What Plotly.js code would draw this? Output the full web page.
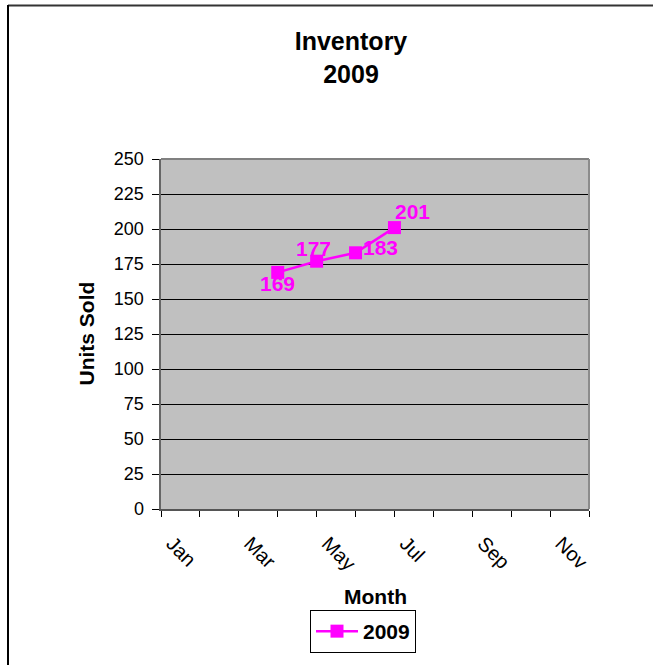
<!DOCTYPE html>
<html>
<head>
<meta charset="utf-8">
<script src="https://cdn.plot.ly/plotly-3.0.1.min.js"></script>
<style>
  html, body { margin: 0; padding: 0; background: #ffffff; }
  #chart { width: 653px; height: 665px; }
</style>
</head>
<body>
<div id="chart"></div>
<script>
// ---- data ----
const months = ['Jan','Feb','Mar','Apr','May','Jun','Jul','Aug','Sep','Oct','Nov','Dec'];
const monthTickText = ['Jan','','Mar','','May','','Jul','','Sep','','Nov',''];
const seriesName = '2009';
const seriesMonths = ['Apr','May','Jun','Jul'];
const unitsSold = [169, 177, 183, 201];
const yTickVals = [0, 25, 50, 75, 100, 125, 150, 175, 200, 225, 250];

// label offsets (px) for data labels, style only
const labelShift = [[0, -11], [-3, 13], [25, 5], [18, 16]];

const magenta = '#FF00FF';
const font = 'Arial, "Liberation Sans", sans-serif';

const trace = {
  type: 'scatter',
  mode: 'lines+markers',
  name: seriesName,
  x: seriesMonths,
  y: unitsSold,
  line: { color: magenta, width: 2.5 },
  marker: { color: magenta, symbol: 'square', size: 13, line: { width: 0 } },
  cliponaxis: false,
  hoverinfo: 'x+y'
};

const annotations = seriesMonths.map((m, i) => ({
  x: m, y: unitsSold[i], xref: 'x', yref: 'y',
  text: '<b>' + unitsSold[i] + '</b>',
  showarrow: false,
  xanchor: 'center', yanchor: 'middle',
  xshift: labelShift[i][0], yshift: labelShift[i][1],
  font: { family: font, size: 21, color: magenta }
}));

// axis titles
annotations.push({
  xref: 'paper', yref: 'paper', x: (86 - 161) / 428, y: (509 - 333.5) / 350,
  xanchor: 'center', yanchor: 'middle',
  text: '<b>Units Sold</b>', textangle: -90, showarrow: false,
  font: { family: font, size: 21, color: '#000' }
});
annotations.push({
  xref: 'paper', yref: 'paper', x: (375 - 161) / 428, y: (509 - 596.5) / 350,
  xanchor: 'center', yanchor: 'middle',
  text: '<b>Month</b>', showarrow: false,
  font: { family: font, size: 21, color: '#000' }
});

const layout = {
  width: 653, height: 665,
  margin: { l: 161, r: 64, t: 159, b: 156 },
  paper_bgcolor: '#ffffff',
  plot_bgcolor: '#C0C0C0',
  showlegend: true,
  title: {
    text: '<b>Inventory<br>2009</b>',
    x: 351 / 653, xref: 'container', xanchor: 'center',
    y: 1 - 50 / 665, yref: 'container', yanchor: 'top',
    font: { family: font, size: 25, color: '#000' }
  },
  xaxis: {
    type: 'category',
    categoryorder: 'array', categoryarray: months,
    range: [0, months.length - 1],
    tickmode: 'array', tickvals: months, ticktext: monthTickText,
    tickangle: 45,
    ticks: 'outside', ticklen: 6, tickcolor: '#000', tickwidth: 1,
    ticklabelstandoff: 7,
    ticklabelshift: 11,
    tickfont: { family: font, size: 20, color: '#000' },
    showgrid: false, zeroline: false,
    showline: true, linecolor: '#555', linewidth: 2, mirror: false,
    fixedrange: true
  },
  yaxis: {
    range: [0, 250],
    tickmode: 'array', tickvals: yTickVals,
    ticks: 'outside', ticklen: 7, tickcolor: '#000', tickwidth: 1,
    ticklabelstandoff: 4,
    tickfont: { family: font, size: 18, color: '#000' },
    showgrid: true, gridcolor: '#000', gridwidth: 1,
    zeroline: false,
    showline: true, linecolor: '#666', linewidth: 2.5, mirror: false,
    fixedrange: true
  },
  legend: {
    x: (310 - 161) / 428, xanchor: 'left',
    y: (509 - 610) / 350, yanchor: 'top',
    orientation: 'h',
    itemwidth: 42,
    bgcolor: '#ffffff', bordercolor: '#000', borderwidth: 1,
    font: { family: font, size: 21, color: '#000', weight: 'bold' }
  },
  annotations: annotations,
  shapes: [
    // plot area top and right borders
    { type: 'line', xref: 'paper', yref: 'paper', x0: 0, x1: 1, y0: 1, y1: 1,
      line: { color: '#808080', width: 2 } },
    { type: 'line', xref: 'paper', yref: 'paper', x0: 1, x1: 1, y0: 0, y1: 1,
      line: { color: '#8c8c8c', width: 2 } },
    // chart frame (top, left)
    { type: 'line', xref: 'paper', yref: 'paper',
      x0: (8 - 161) / 428, x1: (653 - 161) / 428, y0: (509 - 5.5) / 350, y1: (509 - 5.5) / 350,
      line: { color: '#333', width: 2 } },
    { type: 'line', xref: 'paper', yref: 'paper',
      x0: (8 - 161) / 428, x1: (8 - 161) / 428, y0: (509 - 5) / 350, y1: (509 - 665) / 350,
      line: { color: '#000', width: 2 } }
  ]
};

Plotly.newPlot('chart', [trace], layout, { displayModeBar: false, staticPlot: true });
</script>
</body>
</html>
